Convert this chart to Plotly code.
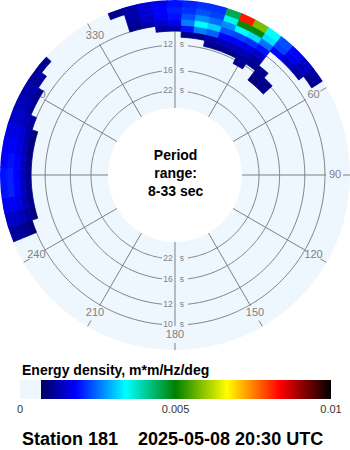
import plotly.graph_objects as go
import numpy as np

# ---------------- data ----------------
# frequency band edges, Hz (radial axis is frequency; labels are periods)
freq_edges = [0.075, 0.080, 0.085, 0.090, 0.095, 0.100, 0.105, 0.110, 0.115, 0.1207]
# direction bin centres, degrees (5 degree bins)
directions = [250, 255, 260, 265, 270, 275, 280, 285, 290, 295, 300, 305, 310,
              340, 345, 350, 355, 0, 5, 10, 15, 20, 25, 30, 35, 40, 45, 50, 55]
# energy density per direction (rows) and frequency band (columns), units of 1e-3 m*m/Hz/deg
energy = [
    [0, 0, 0, 0, 0.0, 0.9, 1.0, 1.1, 1.1],   # 250
    [0, 0, 0, 0, 0.9, 1.1, 1.3, 1.4, 1.4],   # 255
    [0, 0, 0, 0, 1.0, 1.3, 1.6, 1.8, 1.7],   # 260
    [0, 0, 0, 0, 1.0, 1.4, 1.8, 2.0, 1.9],   # 265
    [0, 0, 0, 0, 1.0, 1.4, 1.8, 2.0, 1.9],   # 270
    [0, 0, 0, 0, 1.0, 1.4, 1.8, 1.9, 1.8],   # 275
    [0, 0, 0, 0, 0.9, 1.3, 1.6, 1.8, 1.7],   # 280
    [0, 0, 0, 0, 0.9, 1.2, 1.5, 1.6, 1.6],   # 285
    [0, 0, 0, 0, 0.0, 1.1, 1.3, 1.4, 1.4],   # 290
    [0, 0, 0, 0, 0.0, 0.0, 1.1, 1.3, 1.3],   # 295
    [0, 0, 0, 0, 0.0, 0.0, 1.0, 1.2, 1.2],   # 300
    [0, 0, 0, 0, 0.0, 0.0, 0.0, 1.1, 1.1],   # 305
    [0, 0, 0, 0, 0.0, 0.0, 0.0, 0.0, 1.0],   # 310
    [0, 0, 0, 0, 0.0, 0.0, 0.0, 0.0, 1.0],   # 340
    [0, 0, 0, 0, 0.0, 1.0, 1.1, 1.2, 1.2],   # 345
    [0, 0, 0, 0, 0.0, 1.2, 1.4, 1.5, 1.5],   # 350
    [0, 0, 0, 0, 1.1, 1.5, 1.7, 1.8, 1.7],   # 355
    [0, 0, 0, 0, 1.2, 1.7, 1.9, 2.0, 1.9],   # 0
    [0, 0, 0, 1.0, 1.9, 2.6, 2.3, 2.1, 2.0], # 5
    [0, 0, 0, 1.0, 2.6, 3.4, 2.7, 2.3, 2.1], # 10
    [0, 0, 1.0, 1.2, 2.4, 3.1, 2.5, 2.2, 2.1],  # 15
    [0, 0, 1.0, 1.3, 1.8, 2.3, 2.7, 3.5, 4.5],  # 20
    [0, 0, 1.0, 1.3, 1.7, 2.2, 3.4, 5.1, 8.2],  # 25
    [0, 1.0, 1.1, 1.3, 1.6, 2.1, 3.2, 4.9, 5.8],  # 30
    [0, 0, 1.0, 1.1, 1.4, 1.9, 2.5, 3.2, 3.4],  # 35
    [0.9, 1.0, 1.0, 0, 0, 0, 1.8, 2.2, 2.3],    # 40
    [1.0, 1.0, 0, 0, 0, 0, 1.4, 1.7, 1.8],      # 45
    [0, 0, 0, 0, 0, 0, 1.1, 1.3, 1.4],          # 50
    [0, 0, 0, 0, 0, 0, 0, 1.0, 1.1],            # 55
]
period_ticks = [10, 12, 16, 22]          # seconds
angle_ticks = [0, 30, 60, 90, 120, 150, 180, 210, 240, 270, 300, 330]
radial_range = [0.0314, 0.1207]          # Hz
cbar_ticks = [0, 5, 10]
cbar_ticktext = ["0", "0.005", "0.01"]

# ---------------- style ----------------
BG = "#eef6fe"
GRID = "#808080"
FONT = "Liberation Sans, Arial, sans-serif"
W, H = 350, 450
R_OUT, R_HOLE = 175.0, 67.0

colorscale = [
    [0.0, BG], [0.068, BG],
    [0.068, "#000060"], [0.18, "#0000ff"], [0.34, "#00ffff"],
    [0.50, "#008000"], [0.665, "#ffff00"], [0.835, "#ff0000"], [1.0, "#000000"],
]


def px_to_f(px):
    f0, f1 = radial_range
    return f0 + (px - R_HOLE) / (R_OUT - R_HOLE) * (f1 - f0)


def f_to_px(f):
    f0, f1 = radial_range
    return R_HOLE + (f - f0) / (f1 - f0) * (R_OUT - R_HOLE)


fig = go.Figure()

# ----- grid circles (with gaps for the period labels at 0 and 180) -----
circ_r, circ_t = [], []
for p in period_ticks:
    f = 1.0 / p
    gap = np.degrees(13.0 / f_to_px(f))
    for a, b in [(gap, 180 - gap), (180 + gap, 360 - gap)]:
        th = np.linspace(a, b, 200)
        circ_t += list(th) + [None]
        circ_r += [f] * len(th) + [None]
fig.add_trace(go.Scatterpolar(r=circ_r, theta=circ_t, mode="lines",
                              line=dict(color=GRID, width=1), hoverinfo="skip",
                              showlegend=False, subplot="polar"))

# ----- direction spokes (broken where the angle labels sit) -----
sp_r, sp_t = [], []
for a in angle_ticks:
    sp_t += [a, a, None, a, a, None]
    sp_r += [radial_range[0], px_to_f(151), None, px_to_f(168), radial_range[1], None]
fig.add_trace(go.Scatterpolar(r=sp_r, theta=sp_t, mode="lines",
                              line=dict(color=GRID, width=1), hoverinfo="skip",
                              showlegend=False, subplot="polar"))

# ----- angle labels -----
fig.add_trace(go.Scatterpolar(r=[px_to_f(160)] * len(angle_ticks), theta=angle_ticks,
                              mode="text", text=[str(a) for a in angle_ticks],
                              textfont=dict(family=FONT, size=11, color=GRID),
                              hoverinfo="skip", showlegend=False, subplot="polar"))

# ----- period labels on the 0 and 180 spokes -----
pr, pt = [], []
for p in period_ticks:
    for a in (0, 180):
        pr.append(1.0 / p)
        pt.append(a)
fig.add_trace(go.Scatterpolar(r=pr, theta=pt, mode="text",
                              text=[str(p) + "\u00a0" for p in period_ticks for _ in (0, 1)],
                              textposition="middle left",
                              textfont=dict(family=FONT, size=8.5, color=GRID),
                              hoverinfo="skip", showlegend=False, subplot="polar"))
fig.add_trace(go.Scatterpolar(r=pr, theta=pt, mode="text",
                              text=["\u00a0\u00a0s"] * len(pr),
                              textposition="middle right",
                              textfont=dict(family=FONT, size=8.5, color=GRID),
                              hoverinfo="skip", showlegend=False, subplot="polar"))

# ----- energy cells (on a second, overlaid polar so they cover the labels) -----
b_theta, b_base, b_len, b_val = [], [], [], []
for d, row in zip(directions, energy):
    for k, v in enumerate(row):
        if v > 0:
            b_theta.append(d)
            b_base.append(freq_edges[k])
            b_len.append(freq_edges[k + 1] - freq_edges[k])
            b_val.append(v)

fig.add_trace(go.Barpolar(
    r=b_len, base=b_base, theta=b_theta, width=[5] * len(b_theta),
    marker=dict(color=b_val, colorscale=colorscale, cmin=0, cmax=10,
                line=dict(color=b_val, colorscale=colorscale, cmin=0, cmax=10, width=0.8),
                showscale=True,
                colorbar=dict(orientation="h", x=175.5 / W, xanchor="center",
                              len=311 / W, lenmode="fraction", thickness=19,
                              y=1 - 380 / H, yanchor="top", ypad=0, xpad=0,
                              outlinewidth=0, ticks="", tickvals=cbar_ticks,
                              ticktext=cbar_ticktext,
                              tickfont=dict(family=FONT, size=11, color="#333333"))),
    hoverinfo="skip", showlegend=False, subplot="polar2"))

dom = dict(x=[0, 1], y=[1 - 2 * R_OUT / H, 1])
common_ang = dict(rotation=90, direction="clockwise", showgrid=False, showline=False,
                  showticklabels=False, ticks="")
common_rad = dict(range=radial_range, showgrid=False, showline=False,
                  showticklabels=False, ticks="")

fig.update_layout(
    width=W, height=H, margin=dict(l=0, r=0, t=0, b=0),
    paper_bgcolor="white", plot_bgcolor="white",
    polar=dict(domain=dom, hole=R_HOLE / R_OUT, bgcolor=BG,
               angularaxis=common_ang, radialaxis=common_rad),
    polar2=dict(domain=dom, hole=R_HOLE / R_OUT, bgcolor="rgba(0,0,0,0)",
                angularaxis=common_ang, radialaxis=common_rad),
    annotations=[
        dict(text="Period<br>range:<br>8-33 sec", x=0.5, y=1 - 173 / H,
             xref="paper", yref="paper", showarrow=False, align="center",
             xanchor="center", yanchor="middle",
             font=dict(family=FONT, size=14, color="black", weight="bold")),
        dict(text="Energy density, m*m/Hz/deg", x=20 / W, y=1 - 370 / H,
             xref="paper", yref="paper", showarrow=False, xanchor="left",
             yanchor="middle",
             font=dict(family=FONT, size=14, color="black", weight="bold")),
        dict(text="Station 181\u00a0\u00a0\u00a0 2025-05-08 20:30 UTC", x=20 / W,
             y=1 - 439 / H, xref="paper", yref="paper", showarrow=False,
             xanchor="left", yanchor="middle",
             font=dict(family=FONT, size=18, color="black", weight="bold")),
    ],
)

fig.write_html("out.html")
